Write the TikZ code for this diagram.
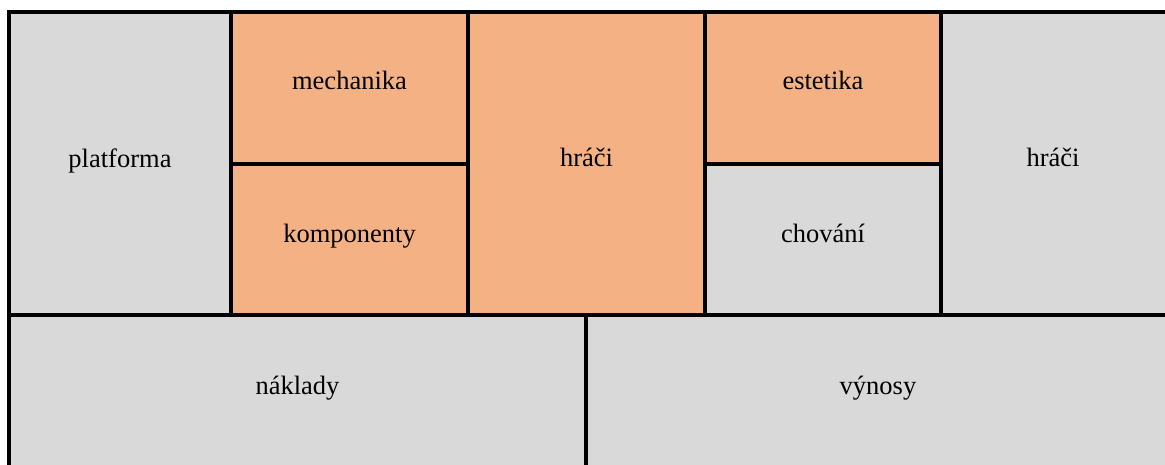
\documentclass[tikz,border=0pt]{standalone}
\usepackage{fontspec}
\setmainfont{Liberation Serif}
\newfontfamily\cellfont{LiberationSerif-Regular.ttf}
\definecolor{cellgray}{HTML}{D9D9D9}
\definecolor{cellorange}{HTML}{F4B183}
\begin{document}
\begin{tikzpicture}[x=1pt,y=-1pt,
  cellbox/.style={draw=black,line width=4pt,line cap=rect,line join=miter},
  graycell/.style={cellbox,fill=cellgray},
  orangecell/.style={cellbox,fill=cellorange},
  lbl/.style={anchor=base,inner sep=0pt,font=\cellfont\fontsize{26.5}{31}\selectfont,text=black}]
\useasboundingbox (0,0) rectangle (1165,464);
\fill[white] (0,0) rectangle (1165,464);
\clip (0,0) rectangle (1165,464);
% cells
\path[graycell]   (9,12)   rectangle (231,315);
\path[orangecell] (231,12) rectangle (468,164);
\path[orangecell] (231,164) rectangle (468,315);
\path[orangecell] (468,12) rectangle (705,315);
\path[orangecell] (705,12) rectangle (941,164);
\path[graycell]   (705,164) rectangle (941,315);
\path[graycell]   (941,12) rectangle (1170,315);
\path[graycell]   (9,315) rectangle (586,472);
\path[graycell]   (586,315) rectangle (1170,472);
% labels
\node[lbl] (platforma) at (120,167) {platforma};
\node[lbl] (mechanika) at (349.5,89) {mechanika};
\node[lbl] (komponenty) at (349.5,242) {komponenty};
\node[lbl] (hraciA) at (586.5,166) {hráči};
\node[lbl] (estetika) at (823,89) {estetika};
\node[lbl] (chovani) at (823,242) {chování};
\node[lbl] (hraciB) at (1053,166) {hráči};
\node[lbl] (naklady) at (297.5,394) {náklady};
\node[lbl] (vynosy) at (878,394) {výnosy};
\end{tikzpicture}
\end{document}
